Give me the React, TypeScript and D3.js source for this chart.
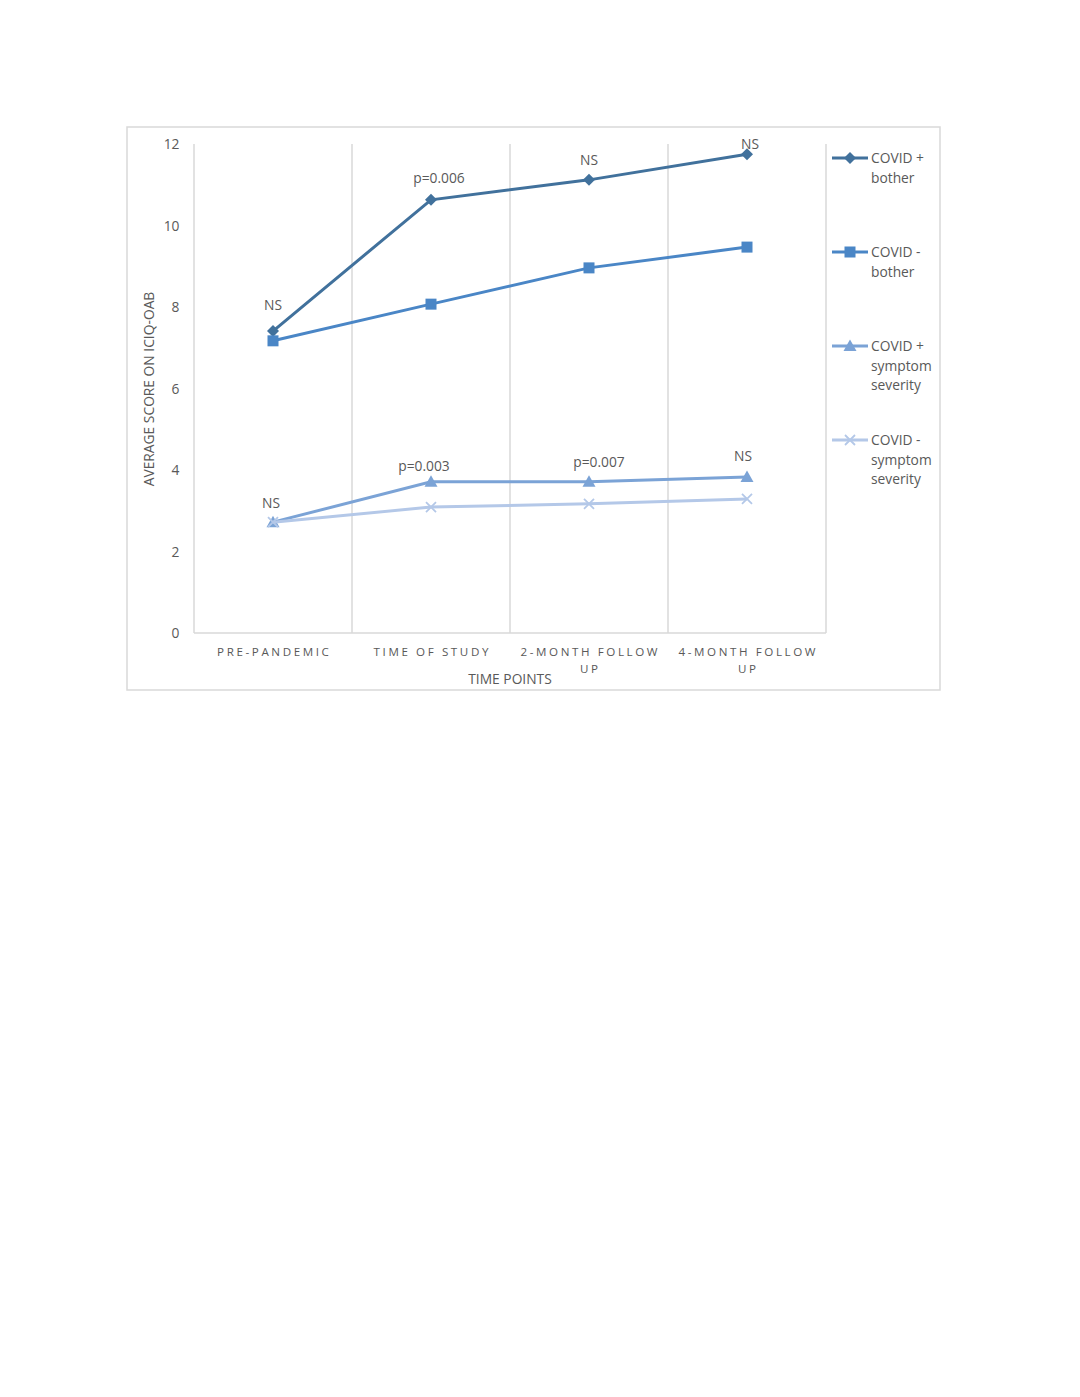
import React from "react";
import * as d3 from "d3";

const categories = [["PRE-PANDEMIC"], ["TIME OF STUDY"], ["2-MONTH FOLLOW", "UP"], ["4-MONTH FOLLOW", "UP"]];
const seriesNames = [["COVID +", "bother"], ["COVID -", "bother"], ["COVID +", "symptom", "severity"], ["COVID -", "symptom", "severity"]];
const covidPosBother = [7.41, 10.63, 11.12, 11.75];
const covidNegBother = [7.17, 8.07, 8.96, 9.47];
const covidPosSymptom = [2.72, 3.71, 3.71, 3.83];
const covidNegSymptom = [2.72, 3.09, 3.17, 3.29];
const bothLabels = ["NS", "p=0.006", "NS", "NS"];
const symptomLabels = ["NS", "p=0.003", "p=0.007", "NS"];
const yTicks = [0, 2, 4, 6, 8, 10, 12];

const colors = ["#41719c", "#4a86c6", "#7ba3d6", "#b4c8e8"];
const markers = ["diamond", "square", "triangle", "x"];
const seriesData = [covidPosBother, covidNegBother, covidPosSymptom, covidNegSymptom];

const font = "'Open Sans', 'Noto Sans', sans-serif";
const textColor = "#595959";

function Marker({ type, x, y, color }: { type: string; x: number; y: number; color: string }) {
  if (type === "diamond") {
    return <path d={`M${x},${y - 6}L${x + 6},${y}L${x},${y + 6}L${x - 6},${y}Z`} fill={color} />;
  }
  if (type === "square") {
    return <rect x={x - 5.5} y={y - 5.5} width={11} height={11} fill={color} />;
  }
  if (type === "triangle") {
    return <path d={`M${x},${y - 6.5}L${x + 6.5},${y + 5}L${x - 6.5},${y + 5}Z`} fill={color} />;
  }
  return (
    <path d={`M${x - 5},${y - 5}L${x + 5},${y + 5}M${x - 5},${y + 5}L${x + 5},${y - 5}`} stroke={color} strokeWidth={1.8} fill="none" />
  );
}

export default function App() {
  const left = 194, right = 826, top = 144, bottom = 633;
  const x = d3.scaleBand<number>().domain(d3.range(categories.length)).range([left, right]);
  const y = d3.scaleLinear().domain([0, 12]).range([bottom, top]);
  const cx = (i: number) => (x(i) as number) + x.bandwidth() / 2;
  const line = d3.line<number>().x((_, i) => cx(i)).y((d) => y(d));

  const gridXs = d3.range(categories.length + 1).map((i) => left + i * x.bandwidth());

  const bothOffsets = [[0, -26], [8, -22], [0, -20], [3, -10]];
  const sympOffsets = [[-2, -19], [-7, -16], [10, -20], [-4, -21]];
  const fs = 13.8;

  return (
    <svg width={1080} height={1397} style={{ position: "absolute", left: 0, top: 0, background: "#fff" }} fontFamily={font}>
      <rect x={127} y={127} width={813} height={563} fill="#fff" stroke="#d9d9d9" strokeWidth={1.5} />
      {gridXs.map((gx, i) => (
        <line key={i} x1={gx} x2={gx} y1={top} y2={bottom} stroke="#d9d9d9" strokeWidth={1.5} />
      ))}
      <line x1={left} x2={right} y1={bottom} y2={bottom} stroke="#d9d9d9" strokeWidth={1.5} />
      {yTicks.map((t) => (
        <text key={t} x={179.5} y={y(t) + 5} textAnchor="end" fontSize={fs} fill={textColor}>{t}</text>
      ))}
      {categories.map((lines, i) => (
        <text key={i} textAnchor="middle" fontSize={11.6} fill={textColor} letterSpacing={2.6}>
          {lines.map((l, j) => (
            <tspan key={j} x={cx(i) + 1.3} y={656 + j * 17}>{l}</tspan>
          ))}
        </text>
      ))}
      <text x={510} y={684} textAnchor="middle" fontSize={fs} fill={textColor}>TIME POINTS</text>
      <text transform={`translate(154,389) rotate(-90)`} textAnchor="middle" fontSize={fs} fill={textColor}>AVERAGE SCORE ON ICIQ-OAB</text>
      {seriesData.map((s, k) => (
        <g key={k}>
          <path d={line(s) || ""} fill="none" stroke={colors[k]} strokeWidth={3} />
          {s.map((v, i) => <Marker key={i} type={markers[k]} x={cx(i)} y={y(v)} color={colors[k]} />)}
        </g>
      ))}
      {bothLabels.map((l, i) => (
        <text key={i} x={cx(i) + bothOffsets[i][0]} y={y(covidPosBother[i]) + bothOffsets[i][1] + 5} textAnchor="middle" fontSize={fs} fill={textColor}>{l}</text>
      ))}
      {symptomLabels.map((l, i) => (
        <text key={i} x={cx(i) + sympOffsets[i][0]} y={y(covidPosSymptom[i]) + sympOffsets[i][1] + 5} textAnchor="middle" fontSize={fs} fill={textColor}>{l}</text>
      ))}
      {seriesNames.map((lines, k) => {
        const ly = 158 + k * 94;
        return (
          <g key={k}>
            <line x1={832} x2={868} y1={ly} y2={ly} stroke={colors[k]} strokeWidth={3} />
            <Marker type={markers[k]} x={850} y={ly} color={colors[k]} />
            <text fontSize={fs} fill={textColor}>
              {lines.map((t, j) => (
                <tspan key={j} x={871} y={ly + 5 + j * 19.5}>{t}</tspan>
              ))}
            </text>
          </g>
        );
      })}
    </svg>
  );
}
